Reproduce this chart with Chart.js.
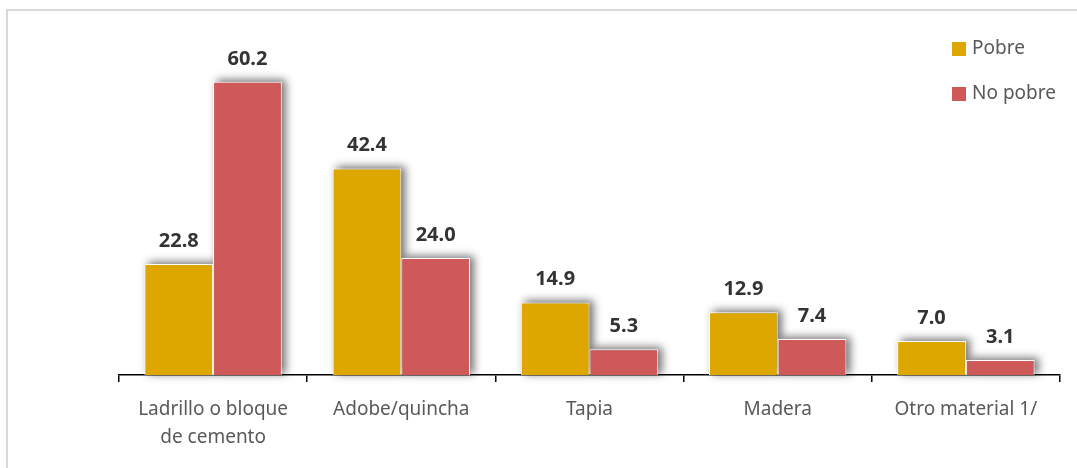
<!DOCTYPE html>
<html>
<head>
<meta charset="utf-8">
<script src="https://cdn.jsdelivr.net/npm/chart.js@4"></script>
<style>
  html, body { margin: 0; padding: 0; background: #fff; overflow: hidden; }
  .frame { position: absolute; left: 6px; top: 9px; width: 1200px; height: 600px;
           border-top: 2px solid #d9d9d9; border-left: 2px solid #d9d9d9; }
  .wrap { position: absolute; left: 0; top: 0; width: 1077px; height: 468px; }
</style>
</head>
<body>
<div class="frame"></div>
<div class="wrap"><canvas id="chart" width="1077" height="468"></canvas></div>
<script>
const categories = [['Ladrillo o bloque', 'de cemento'], 'Adobe/quincha', 'Tapia', 'Madera', 'Otro material 1/'];
const pobre = [22.8, 42.4, 14.9, 12.9, 7.0];
const noPobre = [60.2, 24.0, 5.3, 7.4, 3.1];
const seriesNames = ['Pobre', 'No pobre'];
const seriesColors = ['#DDA700', '#CF5959'];

const FONT = '"Noto Sans", "Open Sans", sans-serif';

// blurred grey shadow drawn under each bar
const shadowPlugin = {
  id: 'barShadow',
  beforeDatasetsDraw(chart) {
    const ctx = chart.ctx;
    ctx.save();
    ctx.filter = 'blur(4px)';
    ctx.fillStyle = 'rgba(0,0,0,0.55)';
    chart.data.datasets.forEach((ds, i) => {
      chart.getDatasetMeta(i).data.forEach(bar => {
        const p = bar.getProps(['x', 'y', 'base', 'width'], true);
        ctx.fillRect(p.x - p.width / 2 + 4, p.y - 2, p.width, p.base - p.y + 1);
      });
    });
    ctx.restore();
  }
};

const valueLabels = {
  id: 'valueLabels',
  afterDatasetsDraw(chart) {
    const ctx = chart.ctx;
    ctx.save();
    ctx.font = 'bold 20px ' + FONT;
    ctx.fillStyle = '#333333';
    ctx.textAlign = 'center';
    ctx.textBaseline = 'alphabetic';
    chart.data.datasets.forEach((ds, i) => {
      chart.getDatasetMeta(i).data.forEach((bar, j) => {
        ctx.fillText(ds.data[j].toFixed(1), bar.x, bar.y - 17);
      });
    });
    ctx.restore();
  }
};

const sideLegend = {
  id: 'sideLegend',
  afterDraw(chart) {
    const ctx = chart.ctx;
    ctx.save();
    ctx.font = '19px ' + FONT;
    ctx.textBaseline = 'middle';
    chart.data.datasets.forEach((ds, i) => {
      const y = 49 + i * 45;
      ctx.fillStyle = ds.backgroundColor;
      ctx.fillRect(952, y - 7, 14, 14);
      ctx.fillStyle = '#595959';
      ctx.fillText(ds.label, 972, y);
    });
    ctx.restore();
  }
};

new Chart(document.getElementById('chart'), {
  type: 'bar',
  data: {
    labels: categories,
    datasets: [
      { label: seriesNames[0], data: pobre, backgroundColor: seriesColors[0],
        borderColor: '#ffffff', borderWidth: 1, categoryPercentage: 0.73, barPercentage: 1.0 },
      { label: seriesNames[1], data: noPobre, backgroundColor: seriesColors[1],
        borderColor: '#ffffff', borderWidth: 1, categoryPercentage: 0.73, barPercentage: 1.0 }
    ]
  },
  options: {
    responsive: false,
    animation: false,
    layout: { padding: { left: 119, right: 17, top: 34, bottom: 0 } },
    scales: {
      x: {
        grid: { display: true, offset: true, drawOnChartArea: false, drawTicks: true, tickLength: 7, color: '#000', lineWidth: 1.5 },
        border: { display: true, color: '#000', width: 1.5 },
        ticks: { color: '#595959', font: { family: FONT, size: 19, lineHeight: 1.45 }, padding: 14, maxRotation: 0, autoSkip: false },
        afterFit(scale) { scale.height = 93; }
      },
      y: {
        display: false,
        min: 0,
        max: 70
      }
    },
    plugins: {
      legend: { display: false },
      tooltip: { enabled: false }
    }
  },
  plugins: [shadowPlugin, valueLabels, sideLegend]
});
</script>
</body>
</html>
